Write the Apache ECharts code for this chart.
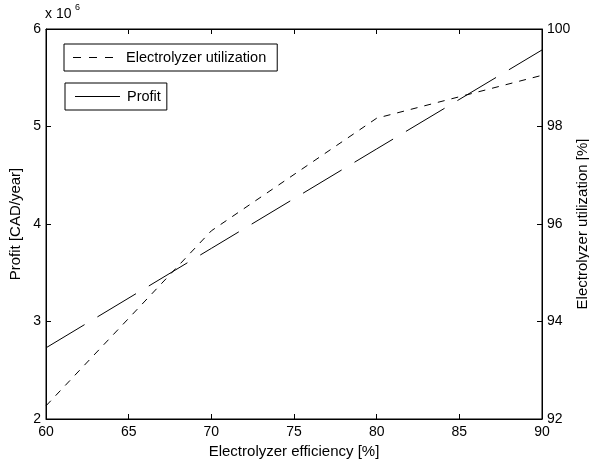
<!DOCTYPE html>
<html lang="en">
<head>
  <meta charset="UTF-8">
  <title>Profit and electrolyzer utilization</title>
  <script src='https://cdn.jsdelivr.net/npm/echarts@6/dist/echarts.min.js'></script>
  <style>
    body { margin: 0; background: #fff; }
  </style>
</head>
<body>
<div id="chart" style="width: 589px; height: 466px"></div>
<script>
  // values
  const efficiency = [60, 70, 80, 90];
  const profit = [2.73, 3.75, 4.77, 5.785];          // x 10^6 CAD/year
  const utilization = [92.27, 95.86, 98.17, 99.05];  // %

  const font = 'Liberation Sans, Arial, sans-serif';
  const black = '#000';

  let chart = echarts.init(document.getElementById('chart'));
  let option = {
    animation: false,
    backgroundColor: '#fff',
    textStyle: { fontFamily: font, color: black },
    graphic: [{
      type: 'text', left: 45, top: 7,
      style: { text: 'x 10', font: '14px ' + font, fill: black }
    }, {
      type: 'text', left: 75, top: 3,
      style: { text: '6', font: '9px ' + font, fill: black }
    }],
    grid: {
      left: 46, right: 47, top: 29, bottom: 47,
      outerBoundsMode: 'none', containLabel: false,
      show: true, borderColor: black, borderWidth: 1
    },
    legend: [{
      data: [{ name: 'Electrolyzer utilization', icon: 'path://M0,0h8v1h-8zM16,0h8v1h-8zM32,0h8v1h-8z' }],
      left: 64, top: 44,
      itemWidth: 40, itemHeight: 1,
      padding: [5, 11, 5, 9],
      borderColor: black, borderWidth: 1, borderRadius: 0,
      textStyle: { fontFamily: font, fontSize: 14.5, lineHeight: 17, color: black, padding: [0, 0, 0, 8] }
    }, {
      data: [{ name: 'Profit', icon: 'path://M0,0h45v1h-45z' }],
      left: 65, top: 83,
      itemWidth: 45, itemHeight: 1,
      padding: [5, 6, 5, 10],
      borderColor: black, borderWidth: 1, borderRadius: 0,
      textStyle: { fontFamily: font, fontSize: 14.5, lineHeight: 17, color: black, padding: [0, 0, 0, 2] }
    }],
    xAxis: [{
      type: 'value',
      min: 60, max: 90, interval: 5,
      name: 'Electrolyzer efficiency [%]',
      nameLocation: 'middle', nameGap: 25, nameMoveOverlap: false,
      nameTextStyle: { fontFamily: font, fontSize: 15, color: black },
      axisLine: { lineStyle: { color: black } },
      axisTick: { inside: true, length: 5, lineStyle: { color: black } },
      axisLabel: { fontFamily: font, fontSize: 14, color: black, margin: 6 },
      splitLine: { show: false }
    }, {
      type: 'value',
      position: 'top',
      min: 60, max: 90, interval: 5,
      axisLine: { lineStyle: { color: black } },
      axisTick: { inside: true, length: 5, lineStyle: { color: black } },
      axisLabel: { show: false },
      splitLine: { show: false }
    }],
    yAxis: [{
      type: 'value',
      min: 2, max: 6, interval: 1,
      name: 'Profit [CAD/year]',
      nameLocation: 'middle', nameGap: 23, nameRotate: 90, nameMoveOverlap: false,
      nameTextStyle: { fontFamily: font, fontSize: 15, color: black },
      axisLine: { show: true, lineStyle: { color: black } },
      axisTick: { show: true, inside: true, length: 5, lineStyle: { color: black } },
      axisLabel: { fontFamily: font, fontSize: 14, color: black, margin: 5 },
      splitLine: { show: false }
    }, {
      type: 'value',
      position: 'right',
      min: 92, max: 100, interval: 2,
      name: 'Electrolyzer utilization [%]',
      nameLocation: 'middle', nameGap: 33, nameRotate: 90, nameMoveOverlap: false,
      nameTextStyle: { fontFamily: font, fontSize: 15, color: black },
      axisLine: { show: true, lineStyle: { color: black } },
      axisTick: { show: true, inside: true, length: 5, lineStyle: { color: black } },
      axisLabel: { fontFamily: font, fontSize: 14, color: black, margin: 5 },
      splitLine: { show: false }
    }],
    series: [{
      name: 'Electrolyzer utilization',
      type: 'line',
      yAxisIndex: 1,
      symbol: 'none',
      data: efficiency.map((e, i) => [e, utilization[i]]),
      lineStyle: { color: black, width: 1, type: [7, 7] },
      itemStyle: { color: black }
    }, {
      name: 'Profit',
      type: 'line',
      yAxisIndex: 0,
      symbol: 'none',
      data: efficiency.map((e, i) => [e, profit[i]]),
      lineStyle: { color: black, width: 1, type: [45, 15] },
      itemStyle: { color: black }
    }]
  };
  chart.setOption(option);
</script>
</body>
</html>
